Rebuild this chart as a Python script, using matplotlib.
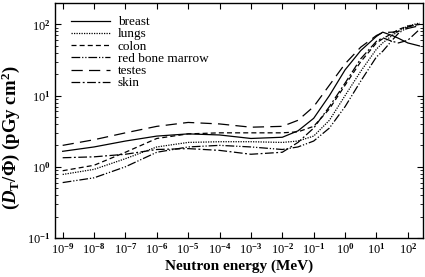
import numpy as np
import matplotlib
matplotlib.use('Agg')
import matplotlib.pyplot as plt

################################### Data ###################################

# log10 of neutron energy (MeV)
log_e = [-9, -8, -7, -6, -5, -4, -3, -2, -1.5, -1, -0.5, 0, 0.5, 1, 1.2, 1.5, 1.7, 2, 2.37]

breast = [1.65, 1.9, 2.3, 2.7, 2.9, 2.8, 2.5, 2.6, 3.2, 4.8, 10, 23, 43, 68, 78, 70, 64, 55, 50]
lungs = [0.78, 0.92, 1.3, 1.9, 2.2, 2.25, 2.25, 2.2, 2.3, 2.7, 4.5, 10, 22, 45, 55, 70, 80, 95, 105]
colon = [0.88, 1.05, 1.6, 2.5, 2.9, 3.0, 3.0, 3.0, 3.1, 3.7, 6.5, 14, 30, 55, 63, 75, 85, 95, 100]
red_marrow = [0.6, 0.7, 1.0, 1.6, 1.9, 2.0, 1.9, 1.75, 1.9, 2.3, 3.5, 7, 16, 35, 42, 60, 75, 92, 102]
testes = [2.0, 2.4, 3.0, 3.7, 4.2, 4.0, 3.6, 3.7, 4.5, 7, 14, 28, 48, 70, 77, 78, 80, 88, 96]
skin = [1.34, 1.38, 1.5, 1.75, 1.8, 1.7, 1.5, 1.6, 2.2, 3.5, 7, 15, 33, 58, 65, 58, 55, 60, 85]

organs = ['breast', 'lungs', 'colon', 'red bone marrow', 'testes', 'skin']
series = [breast, lungs, colon, red_marrow, testes, skin]

################################### Style ###################################

plt.rcParams['font.family'] = ['Liberation Serif', 'DejaVu Serif']
plt.rcParams['mathtext.fontset'] = 'custom'
plt.rcParams['mathtext.rm'] = 'Liberation Serif:bold'
plt.rcParams['mathtext.bf'] = 'Liberation Serif:bold'
plt.rcParams['mathtext.it'] = 'Liberation Serif:italic:bold'

styles = ['-',
          (0, (1, 1)),
          (0, (4, 2.5)),
          (0, (7, 1.5, 1, 1.5, 1, 1.5)),
          (0, (9, 5)),
          (0, (7, 2, 1.5, 2))]

################################### Plotting ###################################

energy = 10.0 ** np.array(log_e)

fig = plt.figure(figsize=(4.25, 2.77), dpi=100)
ax = fig.add_axes([0.129, 0.141, 0.866, 0.848])

for name, vals, ls in zip(organs, series, styles):
    ax.plot(energy, vals, color='black', linestyle=ls, linewidth=0.9, label=name)

ax.set_xscale('log')
ax.set_yscale('log')
ax.set_xlim(10 ** -9.25, 10 ** 2.48)
ax.set_ylim(0.1, 200)

ax.set_xticks(10.0 ** np.arange(-9, 3))
ax.set_xticklabels(['10$^{%d}$' % k for k in range(-9, 3)])
ax.set_yticks([0.1, 1, 10, 100])
ax.set_yticklabels(['10$^{-1}$', '10$^{0}$', '10$^{1}$', '10$^{2}$'])

ax.tick_params(which='both', direction='in', top=True, right=True, labelsize=9, pad=3)
ax.tick_params(which='major', length=4, width=0.8)
ax.tick_params(which='minor', length=2, width=0.6)
for s in ax.spines.values():
    s.set_linewidth(1.0)

ax.set_xlabel('Neutron energy (MeV)', fontsize=11, fontweight='bold', labelpad=2)
ax.set_ylabel(r'$(\mathit{D}_{\mathrm{T}}/\mathit{\Phi})$ (pGy cm$^{2}$)',
              fontsize=13.5, fontweight='bold')
ax.yaxis.set_label_coords(-0.09, 0.425)

ax.legend(loc='upper left', frameon=False, fontsize=9.5, handlelength=2.9,
          labelspacing=0.0, handletextpad=0.6, borderaxespad=0.0,
          borderpad=0.0, bbox_to_anchor=(0.045, 0.945))

fig.savefig('out.png', dpi=100)
